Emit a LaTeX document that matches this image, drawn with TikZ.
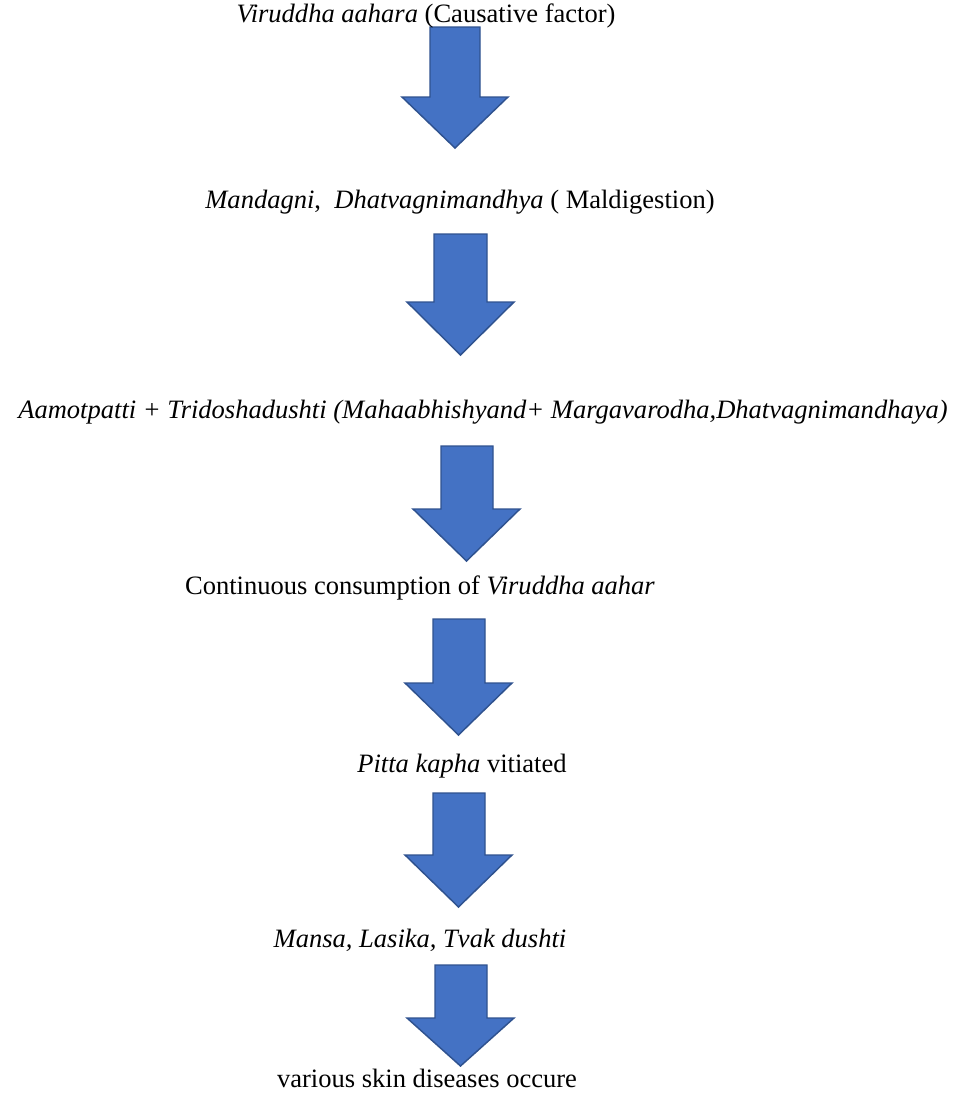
\documentclass[tikz,border=0pt]{standalone}
\usepackage{fontspec}
\setmainfont{Liberation Serif}
\definecolor{arrfill}{HTML}{4472C4}
\definecolor{arrdraw}{HTML}{2F528F}
\begin{document}
\begin{tikzpicture}[x=0.75pt,y=-0.75pt,
  lbl/.style={inner sep=0pt,anchor=base,font=\fontsize{19.9}{23}\selectfont},
  blockarrow/.style={fill=arrfill,draw=arrdraw,line width=1.1pt,line join=miter}]
\useasboundingbox (0,0) rectangle (956,1093);
% arrows: shaftL shaftR top shoulder headL headR tip
\newcommand\barrow[7]{%
  \draw[blockarrow] (#1,#3) -- (#2,#3) -- (#2,#4) -- (#6,#4) -- ({(#5+#6)/2},#7) -- (#5,#4) -- (#1,#4) -- cycle;}
\barrow{430}{480}{27}{97}{402}{508}{148}
\barrow{434}{487}{234}{302}{407}{514}{355}
\barrow{441}{493}{446}{509}{413}{520}{561}
\barrow{433}{485}{619}{683}{405}{512}{735}
\barrow{433}{485}{793}{855}{405}{512}{907}
\barrow{435}{487}{965}{1018}{407}{514}{1066}
\node[lbl] (t1) at (426,22) {\textit{Viruddha aahara} (Causative factor)};
\node[lbl] (t2) at (460,208) {\textit{Mandagni},\ \ \textit{Dhatvagnimandhya} ( Maldigestion)};
\node[lbl] (t3) at (483,418) {\textit{Aamotpatti + Tridoshadushti (Mahaabhishyand+ Margavarodha,Dhatvagnimandhaya)}};
\node[lbl] (t4) at (420,594) {Continuous consumption of \textit{Viruddha aahar}};
\node[lbl] (t5) at (462,772) {\textit{Pitta kapha} vitiated};
\node[lbl] (t6) at (420,947) {\textit{Mansa, Lasika, Tvak dushti}};
\node[lbl] (t7) at (427,1087) {various skin diseases occure};
\end{tikzpicture}
\end{document}
